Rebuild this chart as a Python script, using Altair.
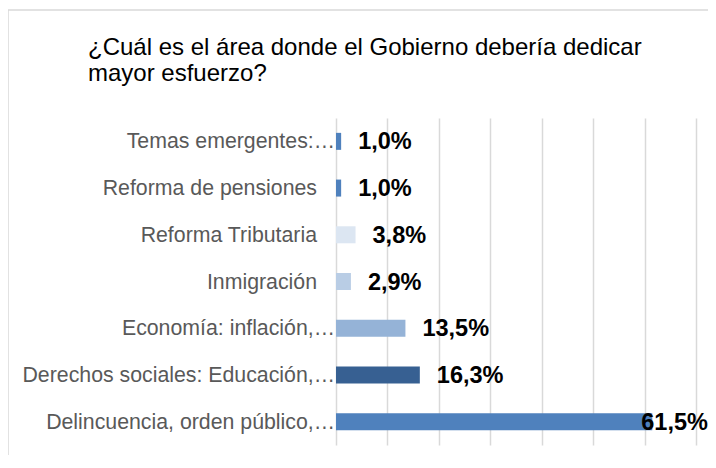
import altair as alt
import pandas as pd

categories = [
    "Temas emergentes:…",
    "Reforma de pensiones",
    "Reforma Tributaria",
    "Inmigración",
    "Economía: inflación,…",
    "Derechos sociales: Educación,…",
    "Delincuencia, orden público,…",
]
values = [1.0, 1.0, 3.8, 2.9, 13.5, 16.3, 61.5]
labels = ["1,0%", "1,0%", "3,8%", "2,9%", "13,5%", "16,3%", "61,5%"]
colors = ["#4f81bd", "#4f81bd", "#dce6f2", "#b9cde5", "#95b3d7", "#376092", "#4f81bd"]
grid_ticks = [0, 10, 20, 30, 40, 50, 60, 70]

df = pd.DataFrame({"cat": categories, "val": values, "lab": labels})

FONT = "Liberation Sans"

y_enc = alt.Y(
    "cat:N",
    sort=categories,
    scale=alt.Scale(paddingInner=0.0, paddingOuter=0.0),
    axis=alt.Axis(title=None, domain=False, ticks=False, labels=False),
)
x_enc = alt.X(
    "val:Q",
    scale=alt.Scale(domain=[0, 70], nice=False, zero=True),
    axis=alt.Axis(
        title=None,
        values=grid_ticks,
        labels=False,
        ticks=False,
        domain=False,
        grid=True,
        gridColor="#d9d9d9",
        gridWidth=1.5,
    ),
)

base = alt.Chart(df)
y_plain = alt.Y("cat:N", sort=categories)

bars = base.mark_bar(size=17).encode(
    x=x_enc,
    y=y_enc,
    color=alt.Color("cat:N", scale=alt.Scale(domain=categories, range=colors), legend=None),
)

cat_trunc = base.transform_filter("indexof(datum.cat, '…') >= 0").mark_text(
    align="right", baseline="middle", dx=-1, dy=1, font=FONT, fontSize=21.3, color="#595959"
).encode(x=alt.datum(0), y=y_plain, text="cat:N")

cat_full = base.transform_filter("indexof(datum.cat, '…') < 0").mark_text(
    align="right", baseline="middle", dx=-19, dy=1, font=FONT, fontSize=21.3, color="#595959"
).encode(x=alt.datum(0), y=y_plain, text="cat:N")

text_small = base.transform_filter("datum.val < 50").mark_text(
    align="left", baseline="middle", dx=17, dy=1, font=FONT, fontSize=23.5, fontWeight="bold", color="#000000"
).encode(x="val:Q", y=y_plain, text="lab:N")

text_big = base.transform_filter("datum.val >= 50").mark_text(
    align="left", baseline="middle", dx=-11, dy=1, font=FONT, fontSize=23.5, fontWeight="bold", color="#000000"
).encode(x="val:Q", y=y_plain, text="lab:N")

frame = alt.Chart(pd.DataFrame({"f": [0]})).mark_rect(
    fill=None, stroke="#d9d9d9", strokeWidth=1.5
).encode(x=alt.value(-328), x2=alt.value(420), y=alt.value(-108), y2=alt.value(400))

chart = alt.layer(frame, bars, cat_trunc, cat_full, text_small, text_big).properties(
    width=360,
    height=327,
    padding={"left": 328, "top": 110, "right": 12, "bottom": 10},
    autosize=alt.AutoSizeParams(type="none"),
    title=alt.TitleParams(
        text=["¿Cuál es el área donde el Gobierno debería dedicar", "mayor esfuerzo?"],
        anchor="start",
        frame="group",
        dx=-248,
        dy=77,
        offset=0,
        font=FONT,
        fontSize=24,
        fontWeight="normal",
        color="#000000",
        lineHeight=26,
    ),
).configure_view(stroke=None)

chart.save("out.html", embed_options={"renderer": "svg", "actions": False})
